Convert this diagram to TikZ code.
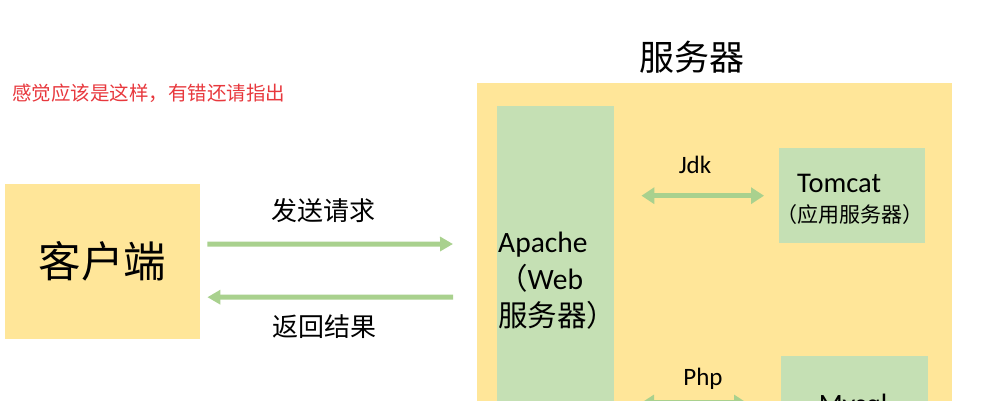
\documentclass[tikz,border=0pt]{standalone}
\usepackage{fontspec}
\setmainfont{Carlito}
\newfontfamily\cjk{Noto Sans CJK SC}
\usetikzlibrary{arrows.meta,
                calc,
                positioning}

\definecolor{boxyellow}{HTML}{FFE699}
\definecolor{boxgreen}{HTML}{C5E0B4}
\definecolor{arrowgreen}{HTML}{A9D18E}
\definecolor{notered}{HTML}{E8383D}

\tikzset{
  panel/.style={fill=#1, draw=none, inner sep=0pt, anchor=north west},
  flow/.style={arrowgreen, line width=5pt, -{Triangle[length=13pt,width=14pt]}},
  flowboth/.style={arrowgreen, line width=5.5pt,
    {Triangle[length=13pt,width=16pt]}-{Triangle[length=13pt,width=16pt]}},
}

\begin{document}
\begin{tikzpicture}[x=1pt,y=-1pt]
\useasboundingbox (0,0) rectangle (991,400);
\clip (0,0) rectangle (991,400);
\fill[white] (0,0) rectangle (991,400);

% note
\node[anchor=west,notered,inner sep=0pt] (note) at (12,93)
  {\cjk\fontsize{19.5}{20}\selectfont 感觉应该是这样，有错还请指出};

% client
\node[panel=boxyellow, minimum width=195pt, minimum height=155pt,
      font=\cjk\fontsize{42.5}{42.5}\selectfont] (client) at (5,184) {客户端};

% server
\node[panel=boxyellow, minimum width=475pt, minimum height=420pt] (server) at (477,83) {};
\node[inner sep=0pt] (serverTitle) at (692,57) {\cjk\fontsize{35}{35}\selectfont 服务器};

\node[panel=boxgreen, minimum width=117pt, minimum height=400pt] (apache) at (497,106) {};
\node[anchor=base west, align=left, inner sep=0pt,
      font=\fontsize{29.5}{37}\selectfont] (apacheText) at (498,326)
  {Apache\\{\cjk （}Web\\{\cjk 服务器）}};

\node[panel=boxgreen, minimum width=146pt, minimum height=95pt] (tomcat) at (779,148) {};
\node[anchor=base west, inner sep=0pt, font=\fontsize{28.5}{28.5}\selectfont] (tomcatText) at (797,192) {Tomcat};
\node[inner sep=0pt, font=\cjk\fontsize{21}{21}\selectfont] (tomcatSub) at (850,215) {（应用服务器）};

\node[panel=boxgreen, minimum width=147pt, minimum height=100pt] (mysql) at (781,356) {};
\node[anchor=base, inner sep=0pt, font=\fontsize{28}{28}\selectfont] (mysqlText) at (853,413) {Mysql};

% request / response
\coordinate (sendEnd) at (453,244);
\coordinate (backStart) at (453,297);
\draw[flow] ([xshift=7pt,yshift=17.5pt]client.east) -- (sendEnd);
\draw[flow] (backStart) -- ([xshift=7pt,yshift=-35.5pt]client.east);
\node[font=\cjk\fontsize{26}{26}\selectfont] (sendLabel) at (323,211) {发送请求};
\node[font=\cjk\fontsize{26}{26}\selectfont] (backLabel) at (324,327) {返回结果};

% inside the server
\draw[flowboth] ([xshift=27pt]apache.east |- tomcat.west) -- ([xshift=-15pt]tomcat.west);
\node[anchor=base, font=\fontsize{25}{25}\selectfont] (jdkLabel) at (695,173) {Jdk};

\coordinate (phpLeft) at (641,403);
\coordinate (phpRight) at (747,403);
\draw[flowboth] (phpLeft) -- (phpRight);
\node[anchor=base, font=\fontsize{25}{25}\selectfont] (phpLabel) at (703,385) {Php};
\end{tikzpicture}
\end{document}
